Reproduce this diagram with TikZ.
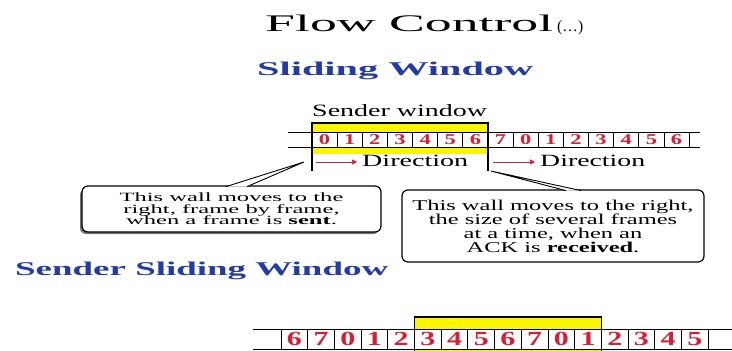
\documentclass[tikz,border=0pt]{standalone}
\usepackage{fontspec}
\usepackage{graphicx}
\setmainfont{Liberation Serif}
\newfontfamily\leftf[FakeStretch=1.95]{Liberation Serif}
\newfontfamily\rightf[FakeStretch=1.63]{Liberation Serif}
\newfontfamily\digf[FakeStretch=1.5]{Liberation Serif}
\usetikzlibrary{arrows.meta}
\definecolor{hblue}{RGB}{35,60,165}
\definecolor{dred}{RGB}{215,30,50}
\definecolor{wyel}{RGB}{250,245,0}
\newcommand{\fitbox}[3]{\resizebox{#1pt}{#2pt}{#3}}
\tikzset{
  digit/.style={text=dred,inner sep=0pt,font=\digf\bfseries\fontsize{15}{15}\selectfont},
  bigdigit/.style={text=dred,inner sep=0pt,font=\digf\bfseries\fontsize{20}{20}\selectfont},
  headtxt/.style={text=hblue,inner sep=0pt,anchor=base west,font=\bfseries\fontsize{19}{19}\selectfont},
  bodytxt/.style={inner sep=0pt,anchor=base west,font=\fontsize{16}{16}\selectfont},
  callout/.style={draw,line width=1.2pt,rounded corners=6pt,fill=white,inner sep=0pt,align=center},
  dirarrow/.style={dred,line width=0.6pt,-{Triangle[length=5pt,width=5pt]}},
  cellline/.style={line width=0.9pt},
}
\begin{document}
\begin{tikzpicture}[x=1pt,y=-1pt]
\useasboundingbox[fill=white] (0,0) rectangle (732,351);

% titles
\node[anchor=base west,inner sep=0pt,font=\fontsize{25}{25}\selectfont] (title) at (265,31) {\fitbox{288}{16.5}{Flow Control}};
\node[anchor=base west,inner sep=0pt,font=\fontsize{14}{14}\selectfont] (dots) at (557,31) {\resizebox{26pt}{!}{(\dots)}};
\node[headtxt] (sw) at (257,75) {\fitbox{276}{13.5}{Sliding Window}};
\node[bodytxt] (senderw) at (312,116) {\fitbox{175}{12}{Sender window}};

% top strip
\def\cw{25.14}
\fill[wyel] (312,123) rectangle (488,154);
\fill[white] (312,132) rectangle (688,147);
\draw[line width=0.8pt] (288,132) -- (700,132) (288,147) -- (700,147);
\foreach \i in {0,...,15} \draw[cellline] ({312+\cw*\i},132) -- ({312+\cw*\i},147);
\foreach \d [count=\i from 0] in {0,1,2,3,4,5,6,7,0,1,2,3,4,5,6}
  \node[digit] (t\i) at ({312+\cw*(\i+0.5)},140) {\d};
\draw[line width=1.1pt] (312,171) coordinate (lw) -- (312,123) -- (488,123) -- (488,171) coordinate (rw);

% directions
\coordinate (a1s) at (316,162);
\coordinate (a1e) at (357,162);
\coordinate (a2s) at (493,162);
\coordinate (a2e) at (535,162);
\draw[dirarrow] (a1s) -- (a1e);
\draw[dirarrow] (a2s) -- (a2e);
\node[bodytxt] (d1) at (362,166) {\fitbox{106}{11.4}{Direction}};
\node[bodytxt] (d2) at (540,166) {\fitbox{105}{11.4}{Direction}};

% left callout
\fill[black!55,rounded corners=6pt] (80,189) rectangle (379,234);
\node[callout,minimum width=299pt,minimum height=46pt,font=\leftf\fontsize{12.6}{11.7}\selectfont] (lbox) at (231.5,209)
  {This wall moves to the\\ right, frame by frame,\\ when a frame is \textbf{sent}.};
\coordinate (ltip) at (304,162);
\coordinate (lb1) at (226,186.6);
\coordinate (lb2) at (247,186.6);
\fill[white] (lb1) -- (ltip) -- (lb2) -- cycle;
\draw[line width=0.9pt] (lb1) -- (ltip) -- (lb2);

% right callout
\node[callout,minimum width=302pt,minimum height=72pt,font=\rightf\fontsize{15}{13.6}\selectfont] (rbox) at (553,226)
  {This wall moves to the right,\\ the size of several frames\\ at a time, when an\\ ACK is \textbf{received}.};
\coordinate (rtip) at (491,171);
\coordinate (rb1) at (566,190.6);
\coordinate (rb2) at (581,190.6);
\fill[white] (rb1) -- (rtip) -- (rb2) -- cycle;
\draw[line width=0.9pt] (rb1) -- (rtip) -- (rb2);

% sender sliding window
\node[headtxt] (ssw) at (15,275) {\fitbox{373}{13.5}{Sender Sliding Window}};

% bottom strip
\def\bw{26.7}
\fill[wyel] (414.5,317) rectangle (601.4,352);
\fill[white] (281,329) rectangle (708,349);
\draw[line width=0.8pt] (253,329) -- (732,329) (253,349) -- (732,349);
\foreach \i in {0,...,16} \draw[cellline] ({281+\bw*\i},329) -- ({281+\bw*\i},349);
\foreach \d [count=\i from 0] in {6,7,0,1,2,3,4,5,6,7,0,1,2,3,4,5}
  \node[bigdigit] (b\i) at ({281+\bw*(\i+0.5)},339) {\d};
\draw[line width=1.1pt] (414.5,352) -- (414.5,317) -- (601.4,317) -- (601.4,352);
\end{tikzpicture}
\end{document}
